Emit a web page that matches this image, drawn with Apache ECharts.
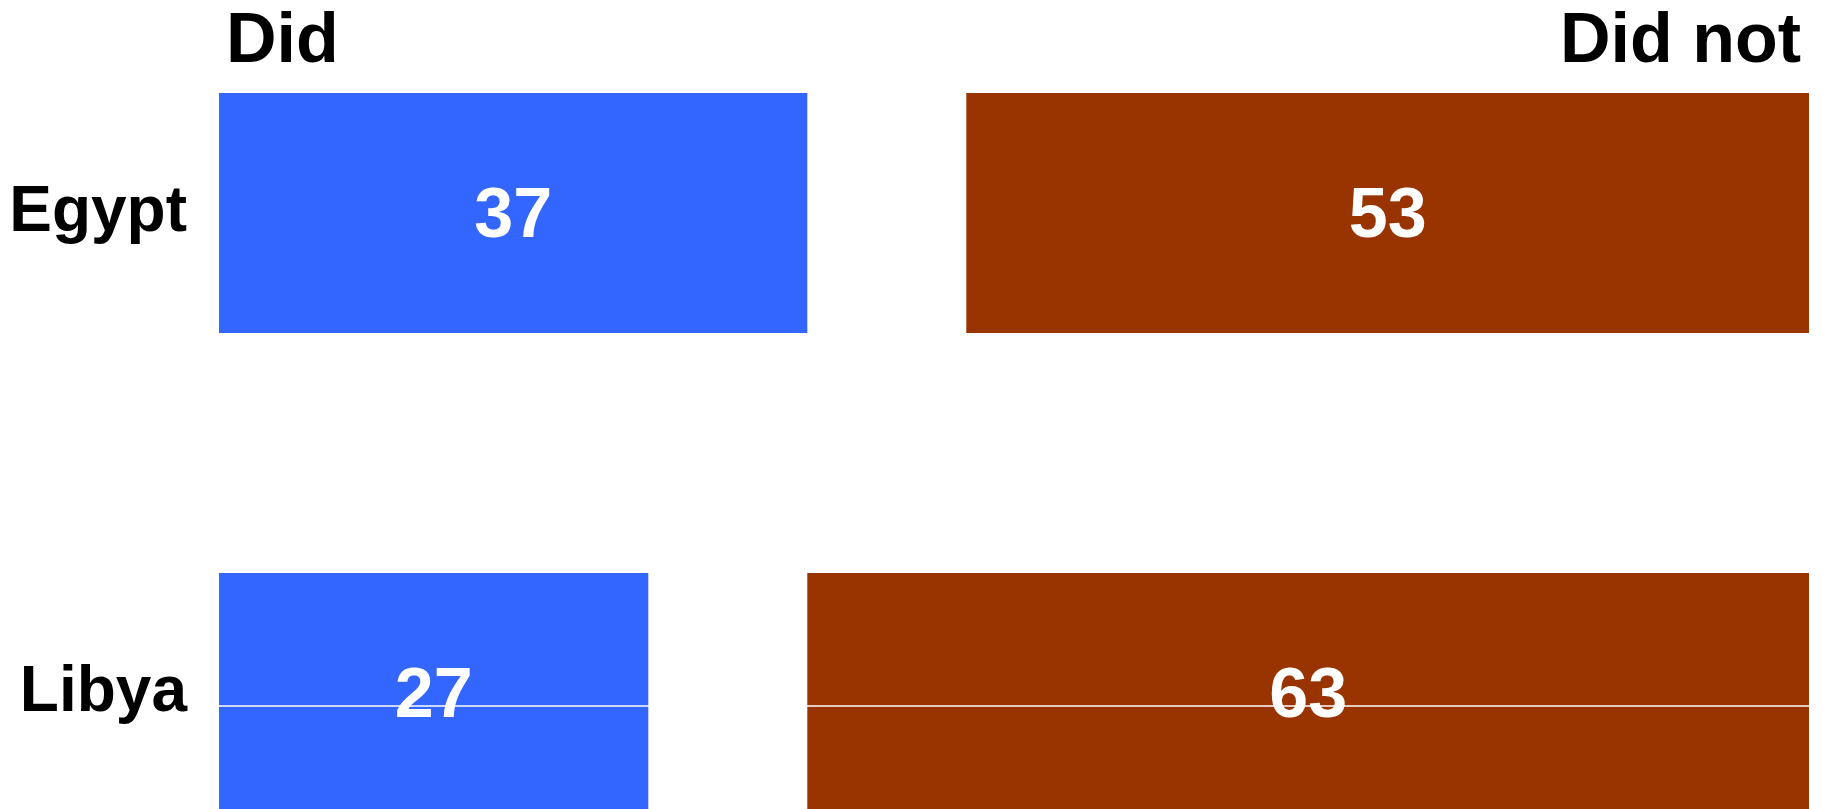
<!DOCTYPE html>
<html>
<head>
<meta charset="utf-8">
<title>Did / Did not</title>
<script src="https://cdn.jsdelivr.net/npm/echarts@6/dist/echarts.min.js"></script>
<style>
  html, body { margin: 0; padding: 0; background: #fff; }
  #chart { width: 1823px; height: 809px; }
</style>
</head>
<body>
<div id="chart"></div>
<script>
// data
const countries = ['Egypt', 'Libya'];
const didValues = [37, 27];
const gapValues = [10, 10];      // unanswered share, drawn as empty space
const didNotValues = [53, 63];
const headers = ['Did', 'Did not'];
const dividerLevel = [1.527];    // thin white rule through the Libya row

const FONT = '"Liberation Sans", Arial, sans-serif';

const chart = echarts.init(document.getElementById('chart'));

const valueLabel = {
    show: true,
    position: 'inside',
    offset: [0, 5],
    color: '#fff',
    fontFamily: FONT,
    fontWeight: 'bold',
    fontSize: 70
};

chart.setOption({
    animation: false,
    backgroundColor: '#fff',
    title: [
        {
            text: headers[0], left: 221, top: 3,
            textStyle: { fontFamily: FONT, fontWeight: 'bold', fontSize: 70, color: '#000' }
        },
        {
            text: headers[1], right: 17, top: 3,
            textStyle: { fontFamily: FONT, fontWeight: 'bold', fontSize: 70, color: '#000' }
        }
    ],
    // the rows are taller than the canvas, so let the grid run past its edges
    grid: { left: 219, right: 14, top: -27, height: 960, outerBoundsMode: 'none', containLabel: false },
    xAxis: {
        type: 'value', min: 0, max: 100,
        show: false
    },
    yAxis: [
        {
            type: 'category',
            data: countries,
            inverse: true,
            axisLine: { show: false },
            axisTick: { show: false },
            splitLine: { show: false },
            axisLabel: {
                margin: 32,
                padding: [5, 0, 0, 0],
                color: '#000',
                fontFamily: FONT,
                fontWeight: 'bold',
                fontSize: 64
            }
        },
        {
            type: 'value', min: 0, max: 2, inverse: true, show: false
        }
    ],
    series: [
        {
            name: headers[0], type: 'bar', stack: 'total',
            barCategoryGap: '50%',
            data: didValues,
            itemStyle: { color: '#3366ff' },
            label: valueLabel
        },
        {
            name: 'gap', type: 'bar', stack: 'total',
            data: gapValues,
            itemStyle: { color: 'rgba(0,0,0,0)' },
            label: { show: false },
            silent: true
        },
        {
            name: headers[1], type: 'bar', stack: 'total',
            data: didNotValues,
            itemStyle: { color: '#993300' },
            label: valueLabel
        },
        {
            name: 'rule', type: 'line', yAxisIndex: 1,
            data: [[0, dividerLevel[0]], [100, dividerLevel[0]]],
            symbol: 'none',
            lineStyle: { color: '#fff', width: 1.5 },
            silent: true
        }
    ]
});
</script>
</body>
</html>
